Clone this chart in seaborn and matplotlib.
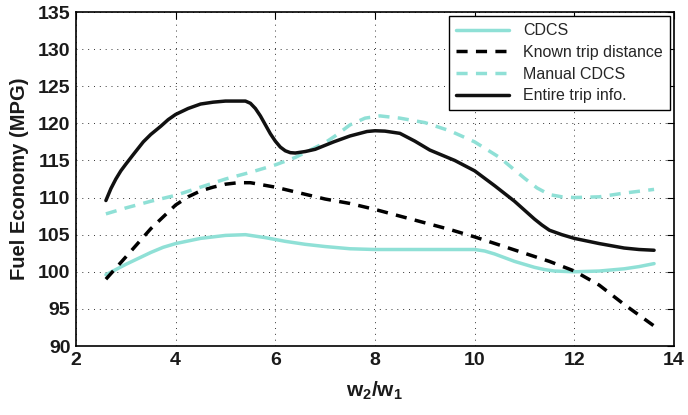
import matplotlib
matplotlib.use("Agg")
import matplotlib.pyplot as plt
import seaborn as sns

# ---- data ----
x_cdcs = [2.6, 2.8, 3.0, 3.25, 3.5, 3.75, 4.0, 4.5, 5.0, 5.4, 5.8, 6.2, 6.6, 7.0, 7.5, 8.0,
          9.0, 10.0, 10.2, 10.4, 10.6, 10.8, 11.0, 11.2, 11.4, 11.6, 12.0, 12.5, 13.0, 13.3, 13.6]
y_cdcs = [99.6, 100.3, 101.0, 101.8, 102.6, 103.3, 103.8, 104.5, 104.9, 105.0, 104.6, 104.1,
          103.7, 103.4, 103.1, 103.0, 103.0, 103.0, 102.8, 102.4, 101.9, 101.4, 101.0, 100.6,
          100.3, 100.1, 100.0, 100.1, 100.4, 100.7, 101.1]

x_known = [2.6, 3.0, 3.5, 4.0, 4.25, 4.5, 4.75, 5.0, 5.25, 5.5, 5.75, 6.0, 6.5, 7.0, 7.5, 8.0,
           8.5, 9.0, 9.5, 10.0, 10.5, 11.0, 11.5, 12.0, 12.5, 13.0, 13.6]
y_known = [99.0, 102.0, 105.8, 109.0, 110.1, 110.9, 111.4, 111.8, 112.0, 112.0, 111.7, 111.4,
           110.6, 109.8, 109.2, 108.4, 107.5, 106.6, 105.7, 104.7, 103.6, 102.5, 101.4, 100.1,
           98.2, 95.6, 92.7]

x_manual = [2.6, 3.0, 3.5, 4.0, 4.5, 5.0, 5.5, 6.0, 6.4, 6.7, 7.0, 7.2, 7.5, 7.8, 8.1,
            8.5, 9.0, 9.5, 10.0, 10.5, 11.0, 11.25, 11.5, 11.75, 12.0, 12.5, 13.0, 13.6]
y_manual = [107.8, 108.6, 109.5, 110.3, 111.4, 112.5, 113.4, 114.4, 115.4, 116.4, 117.4,
            118.3, 119.8, 120.7, 121.0, 120.7, 120.1, 119.0, 117.5, 115.4, 112.6, 111.3,
            110.4, 110.1, 110.0, 110.1, 110.6, 111.1]

x_entire = [2.6, 2.7, 2.8, 2.9, 3.0, 3.15, 3.35, 3.5, 3.7, 3.85, 4.0, 4.25, 4.5, 4.75, 5.0,
            5.4, 5.5, 5.6, 5.7, 5.8, 5.9, 6.0, 6.1, 6.2, 6.3, 6.4, 6.6, 6.8,
            7.17, 7.5, 7.84, 8.0, 8.2, 8.5, 8.8, 9.1, 9.6, 10.0, 10.4, 10.8, 11.0, 11.2, 11.35,
            11.5, 11.75, 12.0, 12.5, 13.0, 13.3, 13.6]
y_entire = [109.6, 111.2, 112.5, 113.6, 114.5, 115.8, 117.5, 118.5, 119.6, 120.5, 121.2,
            122.0, 122.6, 122.85, 123.0, 123.0, 122.7, 122.0, 121.0, 119.8, 118.6, 117.6,
            116.8, 116.3, 116.05, 116.0, 116.2, 116.5, 117.5, 118.3, 118.9, 119.0, 118.95,
            118.65, 117.6, 116.4, 115.0, 113.6, 111.6, 109.5, 108.3, 107.1, 106.3, 105.6,
            105.0, 104.5, 103.8, 103.2, 103.0, 102.9]

labels = ["CDCS", "Known trip distance", "Manual CDCS", "Entire trip info."]
x_ticks = [2, 4, 6, 8, 10, 12, 14]
y_ticks = [90, 95, 100, 105, 110, 115, 120, 125, 130, 135]

sns.set_style("white")
plt.rcParams["font.family"] = ["Liberation Sans", "DejaVu Sans"]
plt.rcParams["mathtext.fontset"] = "custom"
plt.rcParams["mathtext.bf"] = "Liberation Sans:bold"
plt.rcParams["mathtext.rm"] = "Liberation Sans:bold"
plt.rcParams["mathtext.it"] = "Liberation Sans:bold"

fig = plt.figure(figsize=(6.88, 4.15), dpi=100)
ax = fig.add_axes([76 / 688, 1 - 346 / 415, (674 - 76) / 688, (346 - 12) / 415])

cyan = "#8fe0d6"
lw = 2.5
dash = (3.2, 2.4)

sns.lineplot(x=x_cdcs, y=y_cdcs, ax=ax, color=cyan, lw=lw, label=labels[0], sort=False)
sns.lineplot(x=x_known, y=y_known, ax=ax, color="black", lw=lw, label=labels[1], sort=False)
sns.lineplot(x=x_manual, y=y_manual, ax=ax, color=cyan, lw=lw, label=labels[2], sort=False)
sns.lineplot(x=x_entire, y=y_entire, ax=ax, color="#111111", lw=lw, label=labels[3], sort=False)
ax.lines[1].set_dashes(dash)
ax.lines[2].set_dashes(dash)
for ln in ax.lines:
    ln.set_solid_joinstyle("round")
    ln.set_dash_capstyle("butt")

ax.set_xlim(2, 14)
ax.set_ylim(90, 135)
ax.set_xticks(x_ticks)
ax.set_yticks(y_ticks)
ax.set_xticklabels([str(t) for t in x_ticks])
ax.set_yticklabels([str(t) for t in y_ticks])

ax.grid(True, color="black", linestyle=(0, (1, 5)), linewidth=0.7, alpha=0.8)
ax.tick_params(direction="in", length=5, width=0.8, top=True, right=True,
               labelsize=14, pad=4, colors="black")
for lab in ax.get_xticklabels() + ax.get_yticklabels():
    lab.set_fontweight("bold")
    lab.set_color("#1a1a1a")
for s in ax.spines.values():
    s.set_color("black")
    s.set_linewidth(1.2)

ax.set_ylabel("Fuel Economy (MPG)", fontsize=14.5, fontweight="bold", labelpad=6, color="#1a1a1a")
ax.set_xlabel(r"$\mathbf{w_2/w_1}$", fontsize=15, labelpad=8, color="#1a1a1a")

leg = ax.legend(loc="upper right", fontsize=11.5, frameon=True, fancybox=False,
                edgecolor="black", framealpha=1, borderaxespad=0.25,
                handlelength=3.3, handletextpad=0.9, labelspacing=0.42,
                borderpad=0.45)
leg.get_frame().set_linewidth(1.0)

fig.savefig("out.png", dpi=100)
